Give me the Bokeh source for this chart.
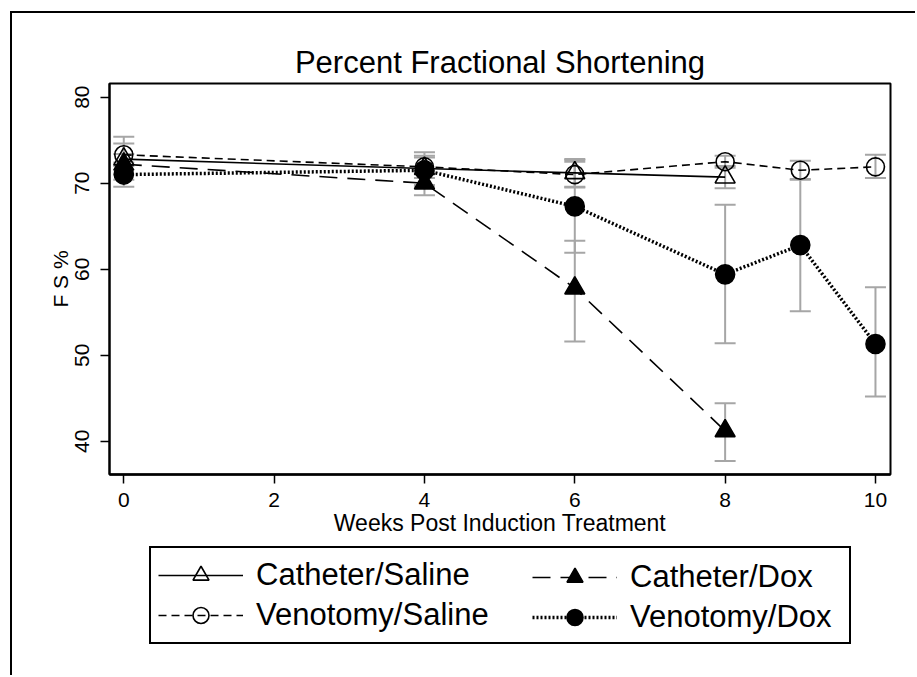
from bokeh.plotting import figure
from bokeh.layouts import column
from bokeh.models import (ColumnDataSource, Whisker, TeeHead, FixedTicker, Legend,
                          LegendItem, Range1d)
from bokeh.embed import file_html
from bokeh.resources import INLINE

# ---- data ----
weeks_cs = [0, 4, 6, 8]
fs_cs = [72.8, 71.7, 71.2, 70.7]
lo_cs = [70.4, 69.8, 69.5, 69.4]
hi_cs = [75.4, 73.6, 72.8, 72.0]

weeks_cd = [0, 4, 6, 8]
fs_cd = [72.2, 70.0, 57.8, 41.2]
lo_cd = [71.0, 68.6, 51.6, 37.7]
hi_cd = [73.4, 71.4, 63.3, 44.4]

weeks_vs = [0, 4, 6, 8, 9, 10]
fs_vs = [73.3, 71.9, 71.0, 72.5, 71.5, 71.9]
lo_vs = [72.0, 70.6, 69.6, 71.8, 70.4, 70.6]
hi_vs = [74.6, 73.2, 72.5, 73.2, 72.6, 73.3]

weeks_vd = [0, 4, 6, 8, 9, 10]
fs_vd = [71.0, 71.5, 67.3, 59.4, 62.8, 51.3]
lo_vd = [69.6, 69.6, 61.9, 51.4, 55.1, 45.2]
hi_vd = [72.4, 73.0, 72.7, 67.5, 70.5, 57.9]

x_ticks = [0, 2, 4, 6, 8, 10]
y_ticks = [40, 50, 60, 70, 80]

FONT = "Liberation Sans"
GRAY = "#a6a6a6"

series = [
    ("Catheter/Saline", weeks_cs, fs_cs, lo_cs, hi_cs, "solid", 1.6, "triangle", False, 20),
    ("Catheter/Dox", weeks_cd, fs_cd, lo_cd, hi_cd, "18 10", 1.6, "triangle", True, 20),
    ("Venotomy/Saline", weeks_vs, fs_vs, lo_vs, hi_vs, "8 5", 1.6, "circle", False, 18),
    ("Venotomy/Dox", weeks_vd, fs_vd, lo_vd, hi_vd, "2 2", 3.5, "circle", True, 19),
]

BL, BR = 97, 25   # shared left/right borders so both frames line up

# ---------------- main chart ----------------
p = figure(width=903, height=529, output_backend="svg", toolbar_location=None,
           x_range=Range1d(-0.19, 10.2), y_range=Range1d(36.13, 81.59),
           min_border_left=BL, min_border_right=BR, min_border_top=70,
           min_border_bottom=68, title="Percent Fractional Shortening")

p.title.align = "center"
p.title.text_font = FONT
p.title.text_font_size = "31px"
p.title.text_font_style = "normal"
p.title.text_color = "black"
p.title.standoff = 8

p.grid.visible = False
p.outline_line_color = "black"
p.outline_line_width = 2
p.outline_line_alpha = 1

for ax in (p.xaxis[0], p.yaxis[0]):
    ax.axis_line_width = 2
    ax.axis_line_color = "black"
    ax.major_tick_out = 9
    ax.major_tick_in = 0
    ax.major_tick_line_width = 1.5
    ax.minor_tick_line_color = None
    ax.major_label_text_font = FONT
    ax.major_label_text_font_size = "21px"
    ax.major_label_text_color = "black"
    ax.axis_label_text_font = FONT
    ax.axis_label_text_font_style = "normal"
    ax.axis_label_text_color = "black"

p.xaxis[0].ticker = FixedTicker(ticks=x_ticks)
p.yaxis[0].ticker = FixedTicker(ticks=y_ticks)
p.xaxis[0].axis_label = "Weeks Post Induction Treatment"
p.xaxis[0].axis_label_text_font_size = "23px"
p.xaxis[0].axis_line_width = 2.5
p.xaxis[0].major_label_standoff = 9
p.xaxis[0].axis_label_standoff = 0
p.yaxis[0].axis_label = "F S %"
p.yaxis[0].axis_label_text_font_size = "21px"
p.yaxis[0].major_label_orientation = "vertical"
p.yaxis[0].major_label_standoff = 11
p.yaxis[0].axis_label_standoff = 1

for name, xs, ys, lo, hi, dash, lw, marker, filled, size in series:
    src = ColumnDataSource(dict(x=xs, y=ys, lower=lo, upper=hi))
    w = Whisker(source=src, base="x", lower="lower", upper="upper",
                line_color=GRAY, line_width=2, level="underlay",
                upper_head=TeeHead(size=21, line_color=GRAY, line_width=2),
                lower_head=TeeHead(size=21, line_color=GRAY, line_width=2))
    p.add_layout(w)

for name, xs, ys, lo, hi, dash, lw, marker, filled, size in series:
    src = ColumnDataSource(dict(x=xs, y=ys))
    p.line("x", "y", source=src, line_color="black", line_width=lw, line_dash=dash)
    p.scatter("x", "y", source=src, marker=marker, size=size,
              line_color="black", line_width=1.6,
              fill_color="black" if filled else "white",
              fill_alpha=1 if filled else 0)

# ---------------- legend panel (same series, out of its view range) ----------------
q = figure(width=903, height=133, output_backend="svg", toolbar_location=None,
           x_range=Range1d(-30, -20), y_range=Range1d(0, 1),
           x_axis_location=None, y_axis_location=None,
           min_border_left=BL, min_border_right=BR, min_border_top=0,
           min_border_bottom=0)
q.grid.visible = False
q.outline_line_color = None

items = {}
for name, xs, ys, lo, hi, dash, lw, marker, filled, size in series:
    src = ColumnDataSource(dict(x=xs, y=ys))
    lr = q.line("x", "y", source=src, line_color="black", line_width=lw, line_dash=dash)
    sr = q.scatter("x", "y", source=src, marker=marker, size=size,
                   line_color="black", line_width=1.6,
                   fill_color="black" if filled else "white",
                   fill_alpha=1 if filled else 0)
    items[name] = LegendItem(label=name, renderers=[lr, sr])

common = dict(orientation="vertical", spacing=0, margin=0,
              glyph_width=85, glyph_height=40, label_height=40,
              label_standoff=13, inactive_fill_alpha=0,
              label_text_font=FONT, label_text_font_size="31px",
              label_text_color="black")

# left column carries the frame of the whole legend box
leg_a = Legend(items=[items["Catheter/Saline"], items["Venotomy/Saline"]],
               location=(40, 31), padding=7, label_width=586,
               border_line_color="black", border_line_width=2, border_line_alpha=1,
               background_fill_color="white", background_fill_alpha=1, **common)
leg_b = Legend(items=[items["Catheter/Dox"], items["Venotomy/Dox"]],
               location=(423, 38), padding=0, border_line_color=None,
               background_fill_alpha=0, **common)
q.add_layout(leg_a)
q.add_layout(leg_b)

page = column(p, q, spacing=0, margin=(11, 0, 0, 10),
              styles={"border-left": "2px solid black", "border-top": "2px solid black"})

open("out.html", "w").write(file_html(page, INLINE))
